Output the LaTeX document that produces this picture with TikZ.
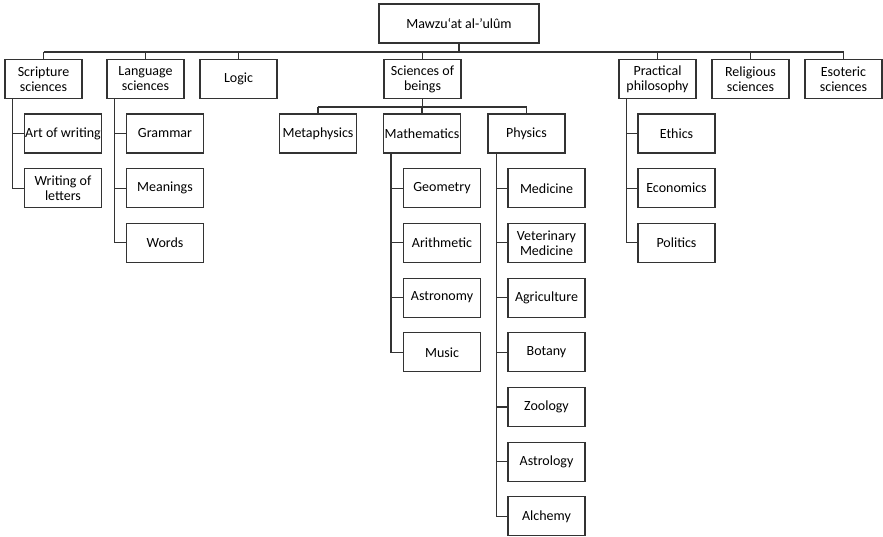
\documentclass[tikz,border=0pt]{standalone}
\usepackage{fontspec}
\setmainfont{Carlito}
\usetikzlibrary{positioning}

\begin{document}
\begin{tikzpicture}[x=1pt, y=-1pt,
	box/.style={draw=black!80, line width=1.1pt, minimum width=77pt, minimum height=39pt, inner sep=1pt, align=center, font=\fontsize{14}{15}\selectfont},
	link/.style={draw=black!80, line width=1.1pt}]
				\useasboundingbox (0,0) rectangle (883,537);
				
				\node[box, minimum width=160pt] (0) at (459, 23.5) {Mawzu‘at al-’ulûm};
				
				\node[box] (1) at (43.5, 79) {Scripture\\sciences};
				\node[box] (2) at (145.5, 79) {Language\\sciences};
				\node[box] (3) at (238.5, 79) {Logic};
				\node[box] (4) at (422.5, 79) {Sciences of\\beings};
				\node[box] (5) at (657.5, 79) {Practical\\philosophy};
				\node[box] (6) at (750.5, 79) {Religious\\sciences};
				\node[box] (7) at (843.5, 79) {Esoteric\\sciences};
				
				\node[box] (11) at (63, 133.5) {Art of writing};
				\node[box] (12) at (63, 188.2) {Writing of\\letters};
				
				\node[box] (21) at (165, 133.5) {Grammar};
				\node[box] (22) at (165, 188.2) {Meanings};
				\node[box] (23) at (165, 242.9) {Words};
				
				\node[box] (41) at (318, 133.5) {Metaphysics};
				\node[box] (42) at (422, 133.5) {Mathematics};
				\node[box] (43) at (526.5, 133.5) {Physics};
				
				\node[box] (421) at (442, 188.2) {Geometry};
				\node[box] (422) at (442, 242.9) {Arithmetic};
				\node[box] (423) at (442, 297.6) {Astronomy};
				\node[box] (424) at (442, 352.3) {Music};
				
				\node[box] (431) at (546.5, 188.2) {Medicine};
				\node[box] (432) at (546.5, 242.9) {Veterinary\\Medicine};
				\node[box] (433) at (546.5, 297.6) {Agriculture};
				\node[box] (434) at (546.5, 352.3) {Botany};
				\node[box] (435) at (546.5, 407) {Zoology};
				\node[box] (436) at (546.5, 461.7) {Astrology};
				\node[box] (437) at (546.5, 516.4) {Alchemy};
				
				\node[box] (51) at (676.5, 133.5) {Ethics};
				\node[box] (52) at (676.5, 188.2) {Economics};
				\node[box] (53) at (676.5, 242.9) {Politics};
				
				% top level bus
				\coordinate (bus) at (459, 52);
				\draw[link] (0.south) -- (0.south |- bus);
				\draw[link] (1.north |- bus) -- (7.north |- bus);
				\foreach \n in {1,...,7}
					\draw[link] (\n.north) -- (\n.north |- bus);
				
				% sciences of beings bus
				\coordinate (sub) at (422.5, 107);
				\draw[link] (4.south) -- (4.south |- sub);
				\draw[link] (41.north |- sub) -- (43.north |- sub);
				\foreach \n in {41,42,43}
					\draw[link] (\n.north) -- (\n.north |- sub);
				
				% side branches
				\coordinate (s1) at ([xshift=8pt]1.south west);
				\coordinate (s2) at ([xshift=8pt]2.south west);
				\coordinate (s42) at ([xshift=8pt]42.south west);
				\coordinate (s43) at ([xshift=9pt]43.south west);
				\coordinate (s5) at ([xshift=8pt]5.south west);
				\draw[link] (s1) |- (12.west);
				\draw[link] (s2) |- (23.west);
				\draw[link] (s42) |- (424.west);
				\draw[link] (s43) |- (437.west);
				\draw[link] (s5) |- (53.west);
				\draw[link] (11.west) -- (11.west -| s1);
				\foreach \c in {21,22}
					\draw[link] (\c.west) -- (\c.west -| s2);
				\foreach \c in {421,...,423}
					\draw[link] (\c.west) -- (\c.west -| s42);
				\foreach \c in {431,...,436}
					\draw[link] (\c.west) -- (\c.west -| s43);
				\foreach \c in {51,52}
					\draw[link] (\c.west) -- (\c.west -| s5);
			\end{tikzpicture}
\end{document}
